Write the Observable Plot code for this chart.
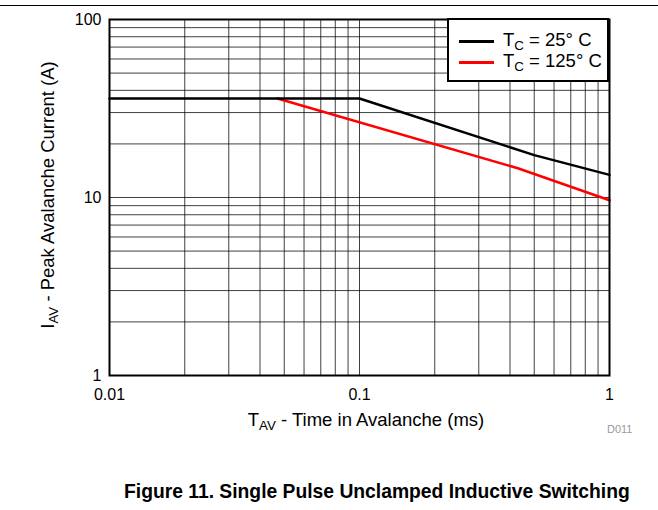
<!DOCTYPE html>
<html>
<head>
<meta charset="utf-8">
<script src="https://cdn.jsdelivr.net/npm/d3@7"></script>
<script src="https://cdn.jsdelivr.net/npm/@observablehq/plot@0.6"></script>
<style>
  body { margin: 0; background: #fff; font-family: "Liberation Sans", Arial, sans-serif; }
  #wrap { position: relative; width: 658px; height: 510px; overflow: hidden; }
  #topline { position: absolute; left: 0; top: 5px; width: 658px; height: 1px; background: #000; }
  .abs { position: absolute; white-space: nowrap; color: #000; line-height: 1.15; }
  sub { font-size: 0.72em; vertical-align: -0.3em; line-height: 0; }
  #legend { position: absolute; left: 447px; top: 18px; width: 158px; height: 60px; border: 2px solid #000; background: #fff; }
  .lg-row { position: absolute; left: 0; height: 20px; }
  .lg-line { position: absolute; left: 10px; width: 35px; height: 2.5px; }
  .lg-text { position: absolute; left: 54px; font-size: 18.5px; line-height: 1.15; white-space: nowrap; }
  svg text { font-size: 16px; }
</style>
</head>
<body>
<div id="wrap">
  <div id="topline"></div>
  <div id="chart"></div>
</div>
<script>
// Data
const seriesNames = ["TC = 25° C", "TC = 125° C"];
const seriesColors = ["#000000", "#ff0000"];
const time25 = [0.01, 0.1, 0.5, 1];
const current25 = [36, 36, 17.3, 13.4];
const time125 = [0.047, 0.43, 1];
const current125 = [36, 14.6, 9.65];
const xTicks = [0.01, 0.1, 1];
const xTickLabels = ["0.01", "0.1", "1"];
const yTicks = [1, 10, 100];
const yTickLabels = ["1", "10", "100"];
const xGrid = [0.02,0.03,0.04,0.05,0.06,0.07,0.08,0.09,0.1,0.2,0.3,0.4,0.5,0.6,0.7,0.8,0.9];
const yGrid = [2,3,4,5,6,7,8,9,10,20,30,40,50,60,70,80,90];

const s25 = time25.map((t, i) => ({t, a: current25[i]}));
const s125 = time125.map((t, i) => ({t, a: current125[i]}));

const chart = Plot.plot({
  width: 658,
  height: 450,
  marginLeft: 109,
  marginRight: 49,
  marginTop: 19,
  marginBottom: 75,
  style: { fontFamily: "'Liberation Sans', Arial, sans-serif", fontSize: "16px", background: "#fff", overflow: "visible" },
  x: { type: "log", domain: [0.01, 1] },
  y: { type: "log", domain: [1, 100] },
  marks: [
    Plot.ruleX(xGrid, { stroke: "#000", strokeOpacity: 0.75, strokeWidth: 1 }),
    Plot.ruleY(yGrid, { stroke: "#000", strokeOpacity: 0.75, strokeWidth: 1 }),
    Plot.line(s125, { x: "t", y: "a", stroke: seriesColors[1], strokeWidth: 2.5 }),
    Plot.line(s25, { x: "t", y: "a", stroke: seriesColors[0], strokeWidth: 2.5 }),
    Plot.frame({ stroke: "#000", strokeWidth: 2 }),
    Plot.axisX({ ticks: xTicks, tickFormat: (d) => xTickLabels[xTicks.indexOf(d)], tickSize: 0, tickPadding: 13, fontSize: 16, label: null }),
    Plot.axisY({ ticks: yTicks, tickFormat: (d) => yTickLabels[yTicks.indexOf(d)], tickSize: 0, tickPadding: 8, fontSize: 16, label: null })
  ]
});
chart.querySelectorAll("text").forEach(t => { t.setAttribute("fill", "#000"); t.setAttribute("font-size", "16"); t.style.fontSize = "16px"; });
document.getElementById("chart").appendChild(chart);

const wrap = document.getElementById("wrap");
function addDiv(html, css, cls) {
  const d = document.createElement("div");
  d.className = cls || "abs";
  d.innerHTML = html;
  Object.assign(d.style, css);
  wrap.appendChild(d);
  return d;
}
// Axis titles
addDiv("T<sub>AV</sub> - Time in Avalanche (ms)", { left: "366px", top: "409px", fontSize: "18.5px", transform: "translateX(-50%)" });
addDiv("I<sub>AV</sub> - Peak Avalanche Current (A)", { left: "48px", top: "195px", fontSize: "18.5px", transform: "translate(-50%,-50%) rotate(-90deg)" });
addDiv("D011", { left: "607px", top: "423px", fontSize: "11px", color: "#999" });
addDiv("Figure 11. Single Pulse Unclamped Inductive Switching", { left: "124px", top: "481px", fontSize: "19.3px", fontWeight: "bold" });

// Legend
const lg = document.createElement("div");
lg.id = "legend";
seriesNames.forEach((name, i) => {
  const row = document.createElement("div");
  row.className = "lg-row";
  row.style.top = (i * 21 + 10) + "px";
  row.style.width = "100%";
  const ln = document.createElement("div");
  ln.className = "lg-line";
  ln.style.background = seriesColors[i];
  ln.style.top = "10px";
  const tx = document.createElement("div");
  tx.className = "lg-text";
  tx.style.top = "-1px";
  tx.innerHTML = name.replace("TC", "T<sub>C</sub>");
  row.appendChild(ln);
  row.appendChild(tx);
  lg.appendChild(row);
});
wrap.appendChild(lg);
</script>
</body>
</html>
